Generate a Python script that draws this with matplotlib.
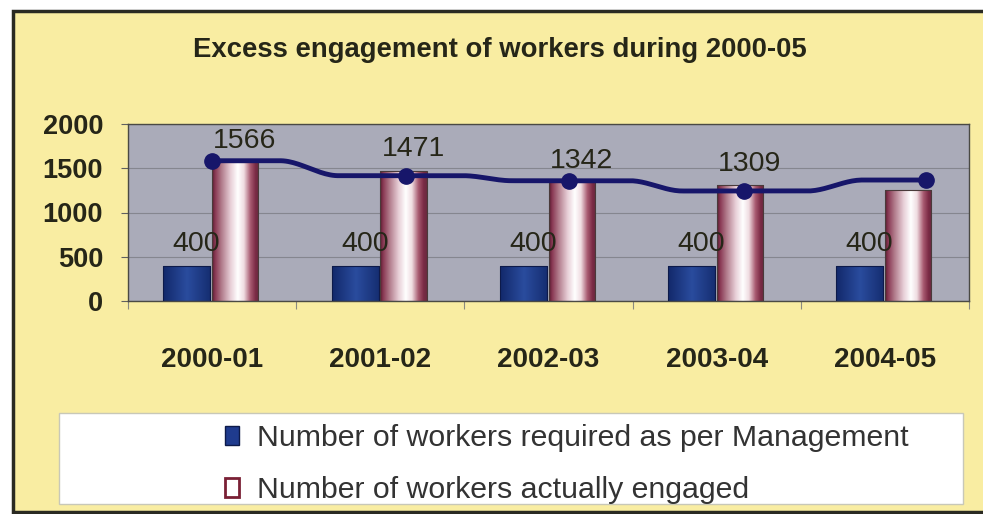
import matplotlib
matplotlib.use("Agg")
import matplotlib.pyplot as plt
import numpy as np
from matplotlib.patches import Rectangle
from matplotlib.colors import LinearSegmentedColormap

# data
years = ["2000-01", "2001-02", "2002-03", "2003-04", "2004-05"]
required = [400, 400, 400, 400, 400]
engaged = [1566, 1471, 1342, 1309, 1250]
engaged_labelled = [True, True, True, True, False]
# the navy trend line drawn over the bars (positions / values as seen)
trend_pos = [0.0, 1.155, 2.12, 3.16, 4.245]
trend_vals = [1585, 1416, 1359, 1243, 1367]

yellow = "#f9eda2"
text_col = "#262618"

plt.rcParams["font.family"] = ["Liberation Sans", "DejaVu Sans"]

fig = plt.figure(figsize=(9.83, 5.14), dpi=100)
fig.patch.set_facecolor("white")

# yellow panel with dark frame (runs off the right edge)
fig.patches.append(Rectangle((13 / 983, 2 / 514), 1.0, 501 / 514, transform=fig.transFigure,
                             facecolor=yellow, edgecolor="#2a2a22", linewidth=2.5, zorder=-3))
# white legend box
fig.patches.append(Rectangle((59 / 983, 10 / 514), 904 / 983, 91 / 514, transform=fig.transFigure,
                             facecolor="white", edgecolor="#c8c8b8", linewidth=1, zorder=-2))

fig.text(0.509, 0.903, "Excess engagement of workers during 2000-05", ha="center", va="center",
         fontsize=19.8, fontweight="bold", color=text_col)

ax = fig.add_axes([128 / 983, 1 - 301 / 514, 841 / 983, 177 / 514])
ax.set_facecolor("#aaabb9")
x = np.arange(len(years))

blue_bars = ax.bar(x - 0.29, required, width=0.28, align="edge", color="none",
                   edgecolor="#0d1a4a", linewidth=0.8, zorder=3)
pink_bars = ax.bar(x, engaged, width=0.275, align="edge", color="none",
                   edgecolor="#4a3a3a", linewidth=0.8, zorder=3)

blue_cmap = LinearSegmentedColormap.from_list("b", [(0, "#12286a"), (0.5, "#2a4c9e"), (1, "#152d70")])
pink_cmap = LinearSegmentedColormap.from_list("p", [
    (0.0, "#5a1a30"), (0.07, "#8a3a55"), (0.2, "#b07a8a"), (0.4, "#e8d0d8"), (0.55, "#ffffff"),
    (0.68, "#f0dde2"), (0.82, "#a85a70"), (0.93, "#7a2a45"), (1.0, "#6a2a40")])
grad = np.linspace(0, 1, 256).reshape(1, -1)
for bars, cmap in ((blue_bars, blue_cmap), (pink_bars, pink_cmap)):
    for b in bars:
        im = ax.imshow(grad, cmap=cmap, aspect="auto", zorder=2,
                       extent=[b.get_x(), b.get_x() + b.get_width(), 0, b.get_height()])
        im.set_clip_path(b)

# smoothed trend line with step-like transitions between points
xs, ys = [], []
for k in range(len(trend_pos) - 1):
    t = np.linspace(0, 1, 80)
    s = np.clip((t - 0.5) / 0.3 + 0.5, 0, 1)
    s = 3 * s ** 2 - 2 * s ** 3
    xs.append(trend_pos[k] + t * (trend_pos[k + 1] - trend_pos[k]))
    ys.append(trend_vals[k] + s * (trend_vals[k + 1] - trend_vals[k]))
ax.plot(np.concatenate(xs), np.concatenate(ys), color="#17166a", lw=3.5, zorder=4)
ax.plot(trend_pos, trend_vals, "o", color="#17166a", ms=11, zorder=5)

for b, v in zip(blue_bars, required):
    ax.annotate(str(v), (b.get_x() + b.get_width() / 2, v), xytext=(7, 6), textcoords="offset points",
                ha="center", va="bottom", fontsize=20.5, color=text_col, zorder=6)
for b, v, show in zip(pink_bars, engaged, engaged_labelled):
    if show:
        ax.annotate(str(v), (b.get_x() + b.get_width() / 2, v), xytext=(7, 6), textcoords="offset points",
                    ha="center", va="bottom", fontsize=20.5, color=text_col, zorder=6)

ax.set_xlim(-0.5, len(years) - 0.5)
ax.set_ylim(0, 2000)
ax.set_yticks([0, 500, 1000, 1500, 2000])
ax.yaxis.grid(True, color="#85868f", lw=0.8)
ax.set_axisbelow(True)
ax.tick_params(axis="y", length=5, color="#606060", pad=13, labelsize=19.5, labelcolor=text_col)
for lab in ax.get_yticklabels():
    lab.set_fontweight("bold")

ax.set_xticks(np.arange(len(years) + 1) - 0.5)
ax.set_xticklabels([])
ax.set_xticks(x, minor=True)
ax.set_xticklabels(years, minor=True, fontsize=20, fontweight="bold", color=text_col)
ax.tick_params(axis="x", which="major", length=6, color="#8a8a80")
ax.tick_params(axis="x", which="minor", length=0, pad=33)
for sp in ax.spines.values():
    sp.set_color("#4a4a44")
    sp.set_linewidth(1)

handles = [Rectangle((0, 0), 1, 1, facecolor="#1f3b8e", edgecolor="#0d1a4a"),
           Rectangle((0, 0), 1, 1, facecolor="white", edgecolor="#7a2035", linewidth=2)]
fig.legend(handles, ["Number of workers required as per Management", "Number of workers actually engaged"],
           loc="center left", bbox_to_anchor=(210 / 983, 1 - 464 / 514), frameon=False,
           fontsize=21.8, handlelength=0.45, handleheight=0.6, handletextpad=0.6,
           labelspacing=0.8, labelcolor="#333333", borderpad=0)

fig.savefig("out.png", dpi=100, facecolor=fig.get_facecolor())
